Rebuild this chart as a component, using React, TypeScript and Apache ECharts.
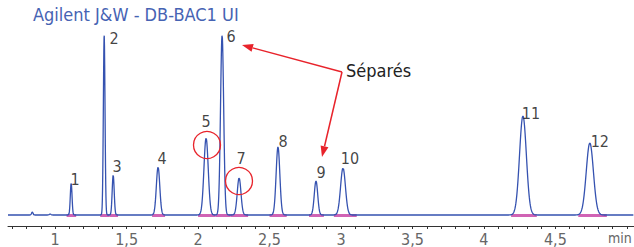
import React, { useEffect, useRef } from "react";
import * as echarts from "echarts";

// Peak table (retention time in min, height, width sigma in min)
const peakNames = ["1", "2", "3", "4", "5", "6", "7", "8", "9", "10", "11", "12"];
const peakTimes = [1.112, 1.343, 1.406, 1.72, 2.056, 2.168, 2.287, 2.559, 2.825, 3.014, 4.273, 4.741];
const peakHeights = [32, 180, 40, 48, 77, 180, 37, 68, 34, 47, 99, 72];
const peakSigmas = [0.006, 0.0058, 0.007, 0.012, 0.015, 0.011, 0.013, 0.013, 0.012, 0.017, 0.024, 0.025];

// minor artefacts before the first peak
const minorTimes = [0.84, 0.965];
const minorHeights = [3, 1];
const minorSigmas = [0.005, 0.006];

// integration segments (start, end in min)
const integStarts = [1.08, 1.315, 1.378, 1.678, 2.0, 2.12, 2.225, 2.5, 2.776, 2.95, 4.19, 4.66];
const integEnds = [1.147, 1.378, 1.44, 1.769, 2.12, 2.225, 2.35, 2.62, 2.88, 3.11, 4.37, 4.86];

const tStart = 0.67;
const tEnd = 5.05;

const FONT = "'Liberation Sans Narrow', 'DejaVu Sans Condensed', 'Roboto Condensed', 'Arial Narrow', Roboto, sans-serif";

// label offsets (layout only)
const labelOffsets: [number, number][] = [
  [4, -4], [10, 3], [4, -9], [4, -9], [0, -17], [9, 1], [2, -20], [5, -6], [5, -9], [7, -10], [8, -3], [10, -2],
];

function buildSignal(): [number, number][] {
  const pts: [number, number][] = [];
  const step = 0.0015;
  const allT = peakTimes.concat(minorTimes);
  const allH = peakHeights.concat(minorHeights);
  const allS = peakSigmas.concat(minorSigmas);
  for (let t = tStart; t <= tEnd + 1e-9; t += step) {
    let y = 0;
    for (let i = 0; i < allT.length; i++) {
      const d = (t - allT[i]) / allS[i];
      if (Math.abs(d) < 8) y += allH[i] * Math.exp(-0.5 * d * d);
    }
    pts.push([+t.toFixed(4), y]);
  }
  return pts;
}

function arrow(x1: number, y1: number, x2: number, y2: number, color: string) {
  const dx = x2 - x1, dy = y2 - y1;
  const len = Math.sqrt(dx * dx + dy * dy);
  const ux = dx / len, uy = dy / len;
  const hl = 11, hw = 4;
  const bx = x2 - ux * hl, by = y2 - uy * hl;
  const px = -uy * hw, py = ux * hw;
  return [
    { type: "line", shape: { x1, y1, x2: bx, y2: by }, style: { stroke: color, lineWidth: 1.5 }, z: 100 },
    {
      type: "polygon",
      shape: { points: [[x2, y2], [bx + px, by + py], [bx - px, by - py]] },
      style: { fill: color },
      z: 100,
    },
  ];
}

export default function App() {
  const ref = useRef<HTMLDivElement>(null);
  useEffect(() => {
    if (!ref.current) return;
    const chart = echarts.init(ref.current, undefined, { renderer: "svg" });
    const red = "#e8232b";
    const option: any = {
      animation: false,
      backgroundColor: "#ffffff",
      grid: [
        { left: 8, right: 0, top: 25, bottom: 21 },
        { left: 8 + (0.7 - tStart) * (626 / (tEnd - tStart)), right: 0, top: 25, bottom: 21 },
      ],
      xAxis: [
        {
          type: "value",
          gridIndex: 0,
          min: tStart,
          max: tEnd,
          axisLine: { show: true, onZero: false, lineStyle: { color: "#333", width: 1 } },
          axisTick: { show: false },
          axisLabel: { show: false },
          splitLine: { show: false },
        },
        {
          type: "value",
          gridIndex: 1,
          min: 0.7,
          max: tEnd,
          interval: 0.1,
          axisLine: { show: false, onZero: false },
          axisTick: { show: true, length: 3, lineStyle: { color: "#333", width: 1 } },
          axisLabel: {
            show: true,
            margin: 5,
            fontSize: 16,
            color: "#666",
            fontFamily: FONT,
            showMaxLabel: false,
            formatter: (v: number) => {
              const r = Math.round(v * 10);
              if (r % 5 !== 0 || r >= 50) return "";
              return (r / 10).toString().replace(".", ",");
            },
          },
          splitLine: { show: false },
        },
      ],
      yAxis: [
        { type: "value", gridIndex: 0, min: -11, max: 190, show: false },
        { type: "value", gridIndex: 1, min: 0, max: 1, show: false },
      ],
      series: [
        {
          type: "custom",
          xAxisIndex: 0,
          yAxisIndex: 0,
          data: integStarts.map((s, i) => [s, integEnds[i]]),
          renderItem: (params: any, api: any) => {
            const a = api.coord([api.value(0), 0]);
            const b = api.coord([api.value(1), 0]);
            return {
              type: "rect",
              shape: { x: a[0], y: a[1] - 1, width: b[0] - a[0], height: 3 },
              style: { fill: "#d063b4" },
            };
          },
          z: 1,
        },
        {
          type: "line",
          xAxisIndex: 0,
          yAxisIndex: 0,
          data: buildSignal(),
          showSymbol: false,
          symbol: "none",
          lineStyle: { color: "#3552b0", width: 1.3 },
          z: 2,
        },
        {
          type: "scatter",
          xAxisIndex: 0,
          yAxisIndex: 0,
          symbolSize: 0,
          data: peakTimes.map((t, i) => ({
            value: [t, peakHeights[i]],
            name: peakNames[i],
            label: { offset: labelOffsets[i] },
          })),
          label: {
            show: true,
            position: "inside",
            formatter: (p: any) => p.name,
            fontSize: 16,
            color: "#111",
            fontFamily: FONT,
          },
          z: 3,
        },
      ],
      graphic: [
        {
          type: "text",
          left: 33,
          top: 5,
          style: { text: "Agilent J&W - DB-BAC1 UI", fontSize: 18, fill: "#4663b3", fontFamily: FONT },
        },
        {
          type: "text",
          x: 608,
          y: 238,
          style: { text: "min", fontSize: 14, fill: "#666", fontFamily: FONT, verticalAlign: "middle" },
        },
        {
          type: "text",
          x: 346,
          y: 70,
          style: { text: "Séparés", fontSize: 18, fill: "#222", fontFamily: FONT, verticalAlign: "middle" },
          z: 100,
        },
        {
          type: "circle",
          shape: { cx: 207, cy: 145, r: 13.5 },
          style: { fill: "none", stroke: red, lineWidth: 1.3 },
          z: 100,
        },
        {
          type: "circle",
          shape: { cx: 239, cy: 181, r: 13.5 },
          style: { fill: "none", stroke: red, lineWidth: 1.3 },
          z: 100,
        },
        ...arrow(342, 72, 242, 45, red),
        ...arrow(342, 72, 322, 157, red),
      ],
    };
    chart.setOption(option);
    return () => chart.dispose();
  }, []);
  return (
    <div
      ref={ref}
      style={{ position: "fixed", left: 0, top: 0, width: 634, height: 247 }}
    />
  );
}
